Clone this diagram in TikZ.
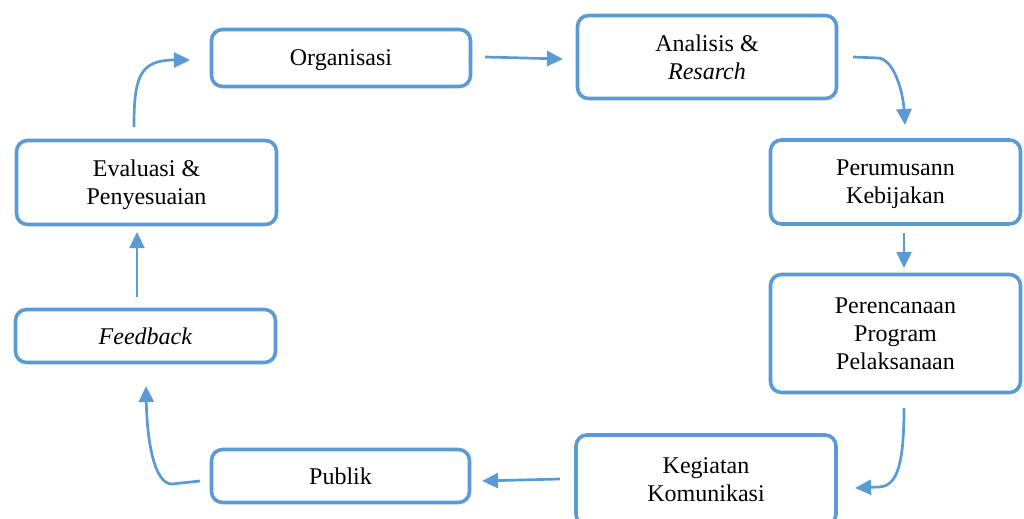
\documentclass[tikz,border=0pt]{standalone}
\usepackage{fontspec}
\setmainfont{Liberation Serif}
\usetikzlibrary{arrows.meta,calc}
\definecolor{cycleblue}{HTML}{5B9BD5}
\begin{document}
\begin{tikzpicture}[x=0.5pt,y=-0.5pt,
  stage/.style={draw=cycleblue,line width=1.8pt,rounded corners=5.5pt,fill=white,
    align=center,inner sep=0pt,text depth=-2pt,font=\fontsize{12}{14}\selectfont},
  flow/.style={draw=cycleblue,line width=1.35pt,
    -{Triangle[length=8pt,width=7.5pt]}}]
\useasboundingbox (0,0) rectangle (1024,519);
\begin{scope}
\clip (0,0) rectangle (1024,519);
% process stages
\node[stage,minimum width=129.5pt,minimum height=28.5pt] (org) at (341,58) {Organisasi};
\node[stage,minimum width=129.5pt,minimum height=41.5pt] (ana) at (707,57) {Analisis \&\\\textit{Resarch}};
\node[stage,minimum width=125pt,minimum height=42pt] (per) at (895.5,182) {Perumusann\\Kebijakan};
\node[stage,minimum width=125pt,minimum height=59pt] (ren) at (895.5,333.5) {Perencanaan\\Program\\Pelaksanaan};
\node[stage,minimum width=130pt,minimum height=45pt] (keg) at (706,480) {Kegiatan\\Komunikasi};
\node[stage,minimum width=129pt,minimum height=26.5pt] (pub) at (340.5,476) {Publik};
\node[stage,minimum width=130pt,minimum height=26.5pt] (fb) at (145.5,336) {\textit{Feedback}};
\node[stage,minimum width=130pt,minimum height=42pt] (eva) at (146.5,182.5) {Evaluasi \&\\Penyesuaian};
\end{scope}
% connector end points, set a little off each stage
\coordinate (e1) at ($(eva.north)+(-12.5,-11.75)$);
\coordinate (o1) at ($(org.west)+(-19.75,2)$);
\coordinate (o2) at ($(org.east)+(12.75,-1)$);
\coordinate (a1) at ($(ana.west)+(-12.75,2)$);
\coordinate (a2) at ($(ana.east)+(14.75,0)$);
\coordinate (p1) at ($(per.north)+(9.5,-13.25)$);
\coordinate (p2) at ($(per.south)+(8.5,7.25)$);
\coordinate (r1) at ($(ren.north)+(8.5,-4.75)$);
\coordinate (r2) at ($(ren.south)+(8.5,13.75)$);
\coordinate (k1) at ($(keg.east)+(17.25,8)$);
\coordinate (k2) at ($(keg.west)+(-14.25,-1)$);
\coordinate (u1) at ($(pub.east)+(10.75,5)$);
\coordinate (u2) at ($(pub.west)+(-9.75,5)$);
\coordinate (f1) at ($(fb.south)+(0.5,21.75)$);
\coordinate (f2) at ($(fb.north)+(-8.5,-10.75)$);
\coordinate (e2) at ($(eva.south)+(-9.5,5.75)$);
% cycle connectors
\draw[flow] (e1) .. controls (134,78) and (139,60) .. (o1);
\draw[flow] (o2) -- (a1);
\draw[flow] (a2) -- (878,58) .. controls (894,59) and (903,92) .. (p1);
\draw[flow] (p2) -- (r1);
\draw[flow] (r2) .. controls (904,468) and (896,487) .. (878,487) -- (k1);
\draw[flow] (k2) -- (u1);
\draw[flow] (u2) -- (172,484) .. controls (154,484) and (147,440) .. (f1);
\draw[flow] (f2) -- (e2);
\end{tikzpicture}
\end{document}
